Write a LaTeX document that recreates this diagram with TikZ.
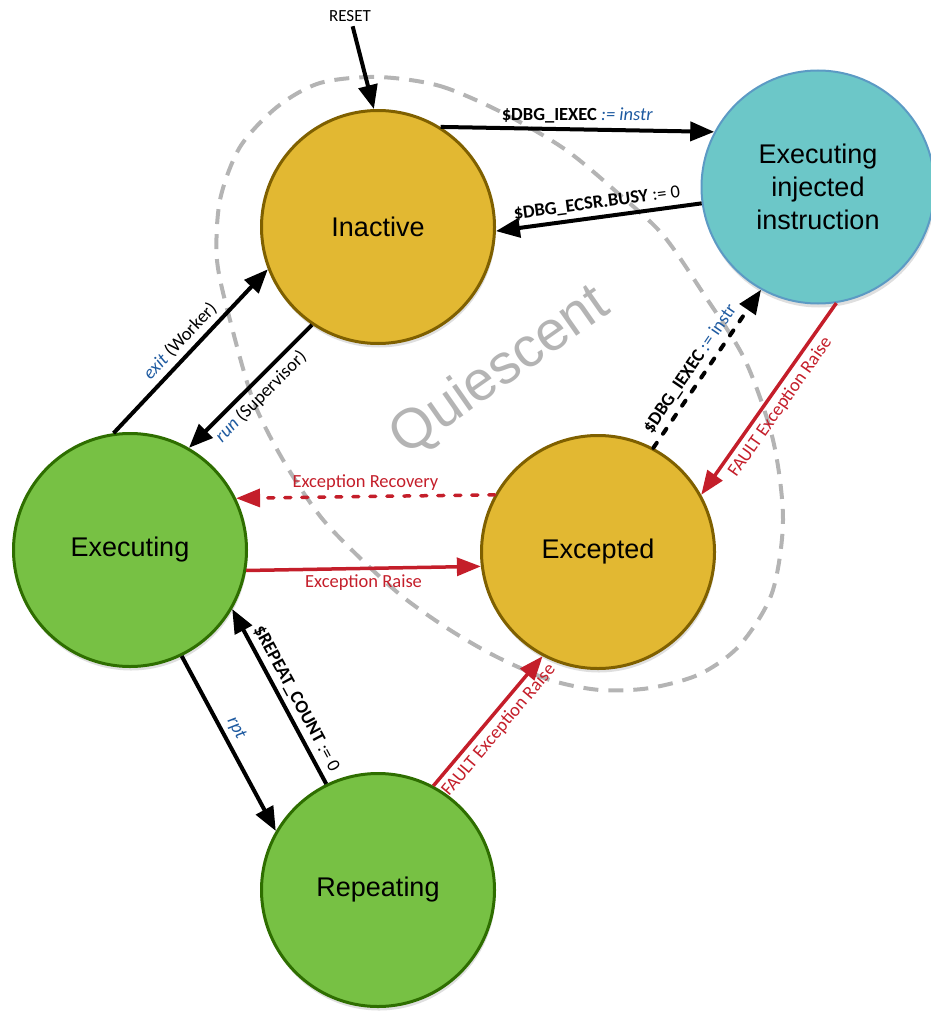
\documentclass[tikz,border=0pt]{standalone}
\usepackage{fontspec}
\setmainfont{Carlito}
\newfontfamily\helv{Liberation Sans}
\usetikzlibrary{arrows.meta,shadows}

\definecolor{inactfill}{RGB}{226,184,50}
\definecolor{inactdraw}{RGB}{127,96,0}
\definecolor{execfill}{RGB}{119,193,68}
\definecolor{execdraw}{RGB}{46,110,0}
\definecolor{injfill}{RGB}{108,199,200}
\definecolor{injdraw}{RGB}{92,154,196}
\definecolor{faultred}{RGB}{196,30,42}
\definecolor{quietgray}{RGB}{180,180,180}
\definecolor{varblue}{RGB}{30,90,160}

\begin{document}
\begin{tikzpicture}[x=1pt,y=-1pt,
    state/.style={circle,minimum size=233pt,line width=3pt,align=center,
      font=\helv\fontsize{27}{33}\selectfont,
      drop shadow={opacity=.25,shadow xshift=1pt,shadow yshift=-4pt}},
    trans/.style={line width=4pt,-{Triangle[length=24pt,width=19pt]}},
    fault/.style={draw=faultred,line width=3.5pt,-{Triangle[length=24pt,width=18pt]}},
    dots/.style={dash pattern=on 6pt off 11pt,line cap=round},
    lbl/.style={font=\fontsize{18.5}{22}\selectfont,inner sep=4.5pt},
    redlbl/.style={lbl,text=faultred}]

\useasboundingbox (0,0) rectangle (931,1014);

%quiescent region
\draw[quietgray,line width=4pt,dash pattern=on 15pt off 10pt] plot[smooth cycle] coordinates
  {(378,77) (440,86) (503,113) (566,150) (620,195) (663,235) (703,293) (745,360)
   (773,440) (783,520) (772,593) (740,645) (700,674) (650,688) (600,690) (550,680)
   (497,657) (450,630) (403,597) (360,558) (320,516) (283,460) (253,400) (230,320)
   (217,260) (220,200) (240,147) (277,107) (320,83)};
\node[font=\helv\fontsize{56}{60}\selectfont,text=quietgray,rotate=35] (quiet) at (500,372) {Quiescent};

%states
\node[state,fill=inactfill,draw=inactdraw] (inactive) at (378,227) {Inactive};
\node[state,fill=injfill,draw=injdraw,line width=2pt] (inject) at (818,187) {Executing\\injected\\instruction};
\node[state,fill=execfill,draw=execdraw] (exec) at (130,550) {Executing};
\node[state,fill=inactfill,draw=inactdraw] (except) at (598,552) {Excepted};
\node[state,fill=execfill,draw=execdraw] (repeating) at (378,890) {Repeating};

%reset
\node[lbl,font=\fontsize{17}{20}\selectfont] (reset) at (350,16) {RESET};
\draw[trans] (reset) -- (inactive.92);

%debug injection
\draw[trans] (inactive.58) -- node[lbl,above] {\textbf{\$DBG\_IEXEC} \textcolor{varblue}{\textit{:= instr}}} (inject.152);
\draw[trans] (inject.188) -- node[lbl,above,sloped] {\textbf{\$DBG\_ECSR.BUSY} := 0} (inactive.-2);
\draw[trans,dots] (except.62) -- node[lbl,above,sloped,pos=.45] {\textbf{\$DBG\_IEXEC} \textcolor{varblue}{:= instr}} (inject.241);

%worker / supervisor
\draw[trans] (exec.98) -- node[lbl,above,sloped] {\textcolor{varblue}{\textit{exit}} (Worker)} (inactive.201);
\draw[trans] (inactive.236) -- node[lbl,below,sloped] {\textcolor{varblue}{\textit{run}} (Supervisor)} (exec.60);

%repeat
\draw[trans] (exec.-64) -- node[lbl,above,sloped,pos=.45] {\textcolor{varblue}{\textit{rpt}}} (repeating.150);
\draw[trans] (repeating.116) -- node[lbl,above,sloped,pos=.45] {\textbf{\$REPEAT\_COUNT} := 0} (exec.-30);

%exceptions
\draw[fault] (exec.-10) -- node[redlbl,below] {Exception Raise} (except.187);
\draw[fault,dots] (except.151) -- node[redlbl,above] {Exception Recovery} (exec.26);
\draw[fault] (inject.279) -- node[redlbl,below,sloped] {FAULT Exception Raise} (except.29);
\draw[fault] (repeating.62) -- node[redlbl,below,sloped] {FAULT Exception Raise} (except.242);

\end{tikzpicture}
\end{document}
